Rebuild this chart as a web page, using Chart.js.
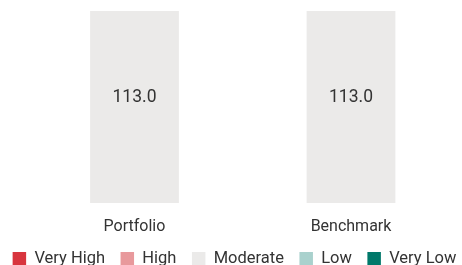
<!DOCTYPE html>
<html><head><meta charset="utf-8">
<script src="https://cdn.jsdelivr.net/npm/chart.js@4"></script>
<style>
html,body{margin:0;padding:0;background:#fff;overflow:hidden;}
#wrap{position:relative;width:462px;height:277px;}
</style></head>
<body><div id="wrap"><canvas id="c"></canvas></div>
<script>
const categories = ["Portfolio", "Benchmark"];
const seriesNames = ["Very High", "High", "Moderate", "Low", "Very Low"];
const veryHigh = [0, 0];
const high = [0, 0];
const moderate = [113.0, 113.0];
const low = [0, 0];
const veryLow = [0, 0];
const colors = ["#d8353e", "#e8999c", "#ebeae9", "#a9d1cd", "#00786a"];

const seriesValues = [veryHigh, high, moderate, low, veryLow];
const labelPlugin = {
  id: 'barLabels',
  afterDatasetsDraw(chart) {
    const ctx = chart.ctx;
    ctx.save();
    ctx.font = '17.5px Roboto';
    ctx.fillStyle = '#333333';
    ctx.textAlign = 'center';
    ctx.textBaseline = 'middle';
    chart.data.datasets.forEach((ds, i) => {
      const meta = chart.getDatasetMeta(i);
      meta.data.forEach((bar, j) => {
        const v = ds.data[j];
        if (v > 0) {
          const h = bar.base - bar.y;
          const y = bar.y + h * 0.45;
          ctx.fillText(v.toFixed(1), bar.x, y);
        }
      });
    });
    ctx.restore();
  }
};

new Chart(document.getElementById('c'), {
  type: 'bar',
  data: {
    labels: categories,
    datasets: seriesNames.map((n, i) => ({
      label: n,
      data: seriesValues[i],
      backgroundColor: colors[i],
      borderWidth: 0,
      barPercentage: 0.82,
      categoryPercentage: 0.5
    }))
  },
  options: {
    responsive: true,
    maintainAspectRatio: false,
    animation: false,
    layout: { padding: { left: -10, right: -17, top: 11, bottom: 0 } },
    plugins: {
      legend: {
        position: 'bottom',
        labels: {
          font: { family: 'Roboto', size: 16.5 },
          color: '#333333',
          boxWidth: 13.5,
          boxHeight: 13.5,
          padding: 15.5
        }
      },
      tooltip: { enabled: false }
    },
    scales: {
      x: {
        stacked: true,
        grid: { display: false, drawTicks: false },
        border: { display: false },
        ticks: { font: { family: 'Roboto', size: 16 }, color: '#333333', padding: 14 },
        afterFit: (scale) => { scale.height -= 15.2; }
      },
      y: {
        stacked: true,
        position: 'left',
        display: true,
        min: 0,
        max: 113,
        grid: { display: false, drawTicks: false },
        border: { display: false },
        ticks: { display: false },
        afterFit: (scale) => { scale.width = 36.25; }
      },
      yr: {
        type: 'linear',
        position: 'right',
        display: true,
        grid: { display: false, drawTicks: false },
        border: { display: false },
        ticks: { display: false },
        afterFit: (scale) => { scale.width = 19.75; }
      }
    }
  },
  plugins: [labelPlugin]
});
</script>
</body></html>
